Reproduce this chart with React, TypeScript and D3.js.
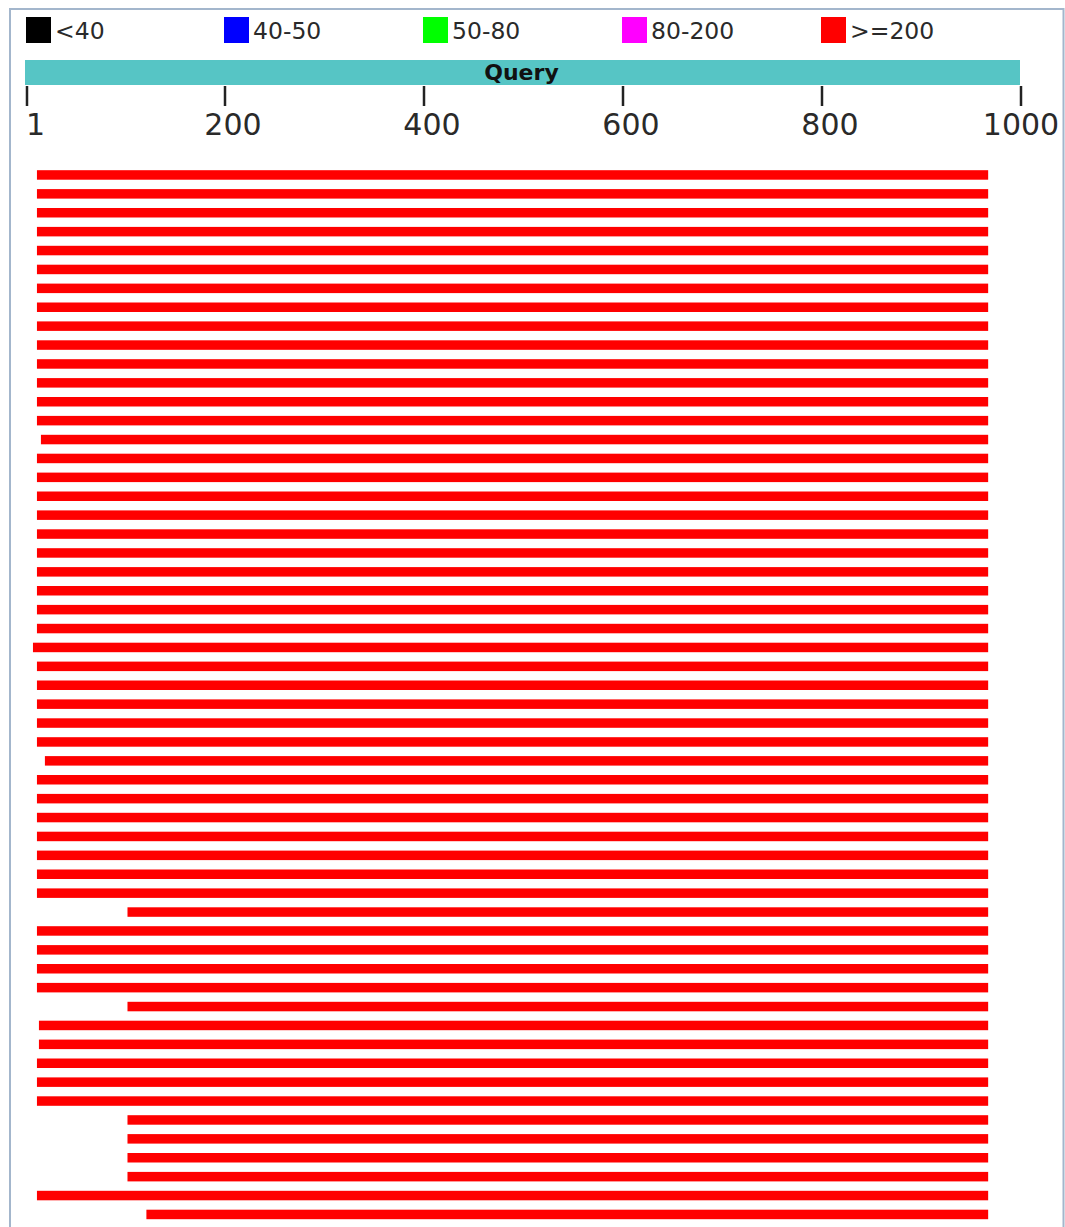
import React from "react";
import * as d3 from "d3";

const legendLabels = ["<40", "40-50", "50-80", "80-200", ">=200"];
const legendColors = ["#000000", "#0000ff", "#00ff00", "#ff00ff", "#ff0000"];
const legendPositions = [1, 200, 400, 600, 800];

const queryLength = [0, 1000];
const tickValues = [1, 200, 400, 600, 800, 1000];

const hitStarts = [
  11, 11, 11, 11, 11, 11, 11, 11, 11, 11,
  11, 11, 11, 11, 15, 11, 11, 11, 11, 11,
  11, 11, 11, 11, 11, 7, 11, 11, 11, 11,
  11, 19, 11, 11, 11, 11, 11, 11, 11, 102,
  11, 11, 11, 11, 102, 13, 13, 11, 11, 11,
  102, 102, 102, 102, 11, 121,
];
const hitEnds = [
  967, 967, 967, 967, 967, 967, 967, 967, 967, 967,
  967, 967, 967, 967, 967, 967, 967, 967, 967, 967,
  967, 967, 967, 967, 967, 967, 967, 967, 967, 967,
  967, 967, 967, 967, 967, 967, 967, 967, 967, 967,
  967, 967, 967, 967, 967, 967, 967, 967, 967, 967,
  967, 967, 967, 967, 967, 967,
];
const hitScoreClass = hitStarts.map(() => 4);

const W = 1065;
const H = 1227;
const FONT = "'DejaVu Sans', Verdana, sans-serif";

export default function App() {
  const x = d3.scaleLinear().domain([0, 1000]).range([26, 1021]);
  const y = d3
    .scaleBand<number>()
    .domain(d3.range(hitStarts.length))
    .range([165.5, 165.5 + 18.9 * hitStarts.length])
    .paddingInner(0.5)
    .paddingOuter(0.25);

  const barH = 9.5;

  return (
    <div style={{ position: "absolute", left: 0, top: 0 }}>
      <svg width={W} height={H} style={{ display: "block", background: "#fff" }}>
        {/* border */}
        <path
          d={`M10,${H + 5} L10,9 L1063.5,9 L1063.5,${H + 5}`}
          fill="none"
          stroke="#a3b6cc"
          strokeWidth={2}
        />
        {/* legend */}
        {legendLabels.map((lab, i) => {
          const lx = x(legendPositions[i]) - 1;
          return (
            <g key={lab}>
              <rect x={lx} y={17} width={25} height={26} fill={legendColors[i]} />
              <text
                x={lx + 29}
                y={39}
                fontFamily={FONT}
                fontSize={23.5}
                fill="#2a2a2a"
              >
                {lab}
              </text>
            </g>
          );
        })}
        {/* query bar */}
        <rect
          x={x(queryLength[0]) - 1}
          y={60}
          width={x(queryLength[1]) - x(queryLength[0])}
          height={25}
          fill="#56c5c5"
        />
        <text
          x={x(500) - 2}
          y={80}
          textAnchor="middle"
          fontFamily={FONT}
          fontWeight="bold"
          fontSize={22}
          fill="#111"
        >
          Query
        </text>
        {/* ticks */}
        {tickValues.map((t, i) => {
          const tx = x(t);
          const last = i === tickValues.length - 1;
          const first = i === 0;
          return (
            <g key={t}>
              <line x1={tx} x2={tx} y1={86} y2={106} stroke="#222" strokeWidth={2.5} />
              <text
                x={first ? tx - 1 : last ? tx : tx + 8}
                y={135}
                textAnchor={first ? "start" : "middle"}
                fontFamily={FONT}
                fontSize={30}
                fill="#2a2a2a"
              >
                {t}
              </text>
            </g>
          );
        })}
        {/* hits */}
        {hitStarts.map((s, i) => {
          const cy = (y(i) as number) + y.bandwidth() / 2;
          return (
            <rect
              key={i}
              x={x(s)}
              y={cy - barH / 2}
              width={x(hitEnds[i]) - x(s)}
              height={barH}
              fill={legendColors[hitScoreClass[i]]}
            />
          );
        })}
      </svg>
    </div>
  );
}
